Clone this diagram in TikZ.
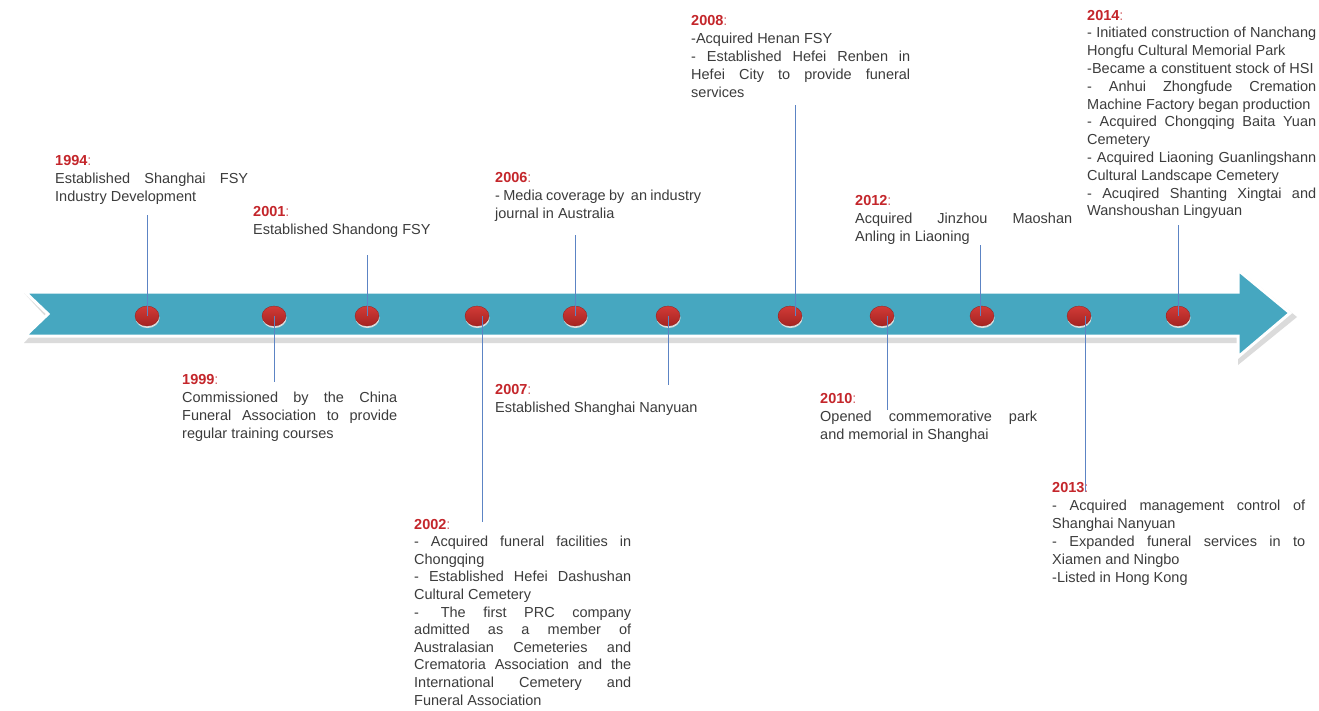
\documentclass[tikz,border=0pt]{standalone}
\usepackage{fontspec}
\setmainfont{Liberation Sans}
\usetikzlibrary{shapes.geometric}
\definecolor{band}{HTML}{46A7C0}
\definecolor{yrred}{HTML}{C4262B}
\definecolor{txtgray}{HTML}{3C3C3C}
\definecolor{conncol}{HTML}{5C84C4}
\definecolor{dottop}{HTML}{D23B37}
\definecolor{dotbot}{HTML}{A52321}
\newcommand{\yr}[1]{{\color{yrred}\bfseries #1}{\color{yrred!70}:}}
\newcommand{\jl}[2]{\makebox[#1pt][s]{#2}}
\begin{document}
\begin{tikzpicture}[x=1pt,y=-1pt,
  dotnode/.style={ellipse,minimum width=24pt,minimum height=20pt,inner sep=0pt,
    top color=dottop,bottom color=dotbot,draw=dotbot!85!black,line width=0.3pt},
  dotshadow/.style={ellipse,minimum width=24pt,minimum height=20pt,inner sep=0pt,fill=black!14},
  conn/.style={draw=conncol,line width=0.9pt},
  txt/.style={anchor=base west,inner sep=0pt,text=txtgray,font=\fontsize{14.5}{18}\selectfont}]
\useasboundingbox (0,0) rectangle (1319,710);
\fill[white] (0,0) rectangle (1319,710);
% arrow band
\fill[black!14,shift={(2,4)}] (22,289) -- (1236,289) -- (1236,265) -- (1295,313) -- (1236,361) -- (1236,339) -- (22,339) -- (45,314) -- cycle;
\filldraw[fill=band,draw=white,line width=3pt] (25,292) -- (1238,292) -- (1238,270) -- (1290,313) -- (1238,357) -- (1238,336) -- (25,336) -- (48,314) -- cycle;
% dots
\foreach \n/\x in {1/147,2/274,3/367,4/477,5/575,6/668,7/790,8/882,9/982,10/1079,11/1178}{
  \node[dotshadow] at (\x+0.5,318) {};
  \node[dotnode] (d\n) at (\x,316) {};
}
% connectors
\coordinate (t1) at (147,215);
\coordinate (t3) at (367,255);
\coordinate (b2) at (274,382);
\coordinate (b4) at (482,522);
\coordinate (t5) at (575,235);
\coordinate (b6) at (668,385);
\coordinate (t7) at (795,105);
\coordinate (b8) at (887,410);
\coordinate (t9) at (980,245);
\coordinate (b10) at (1085,492);
\coordinate (t11) at (1178,225);
\draw[conn] (t1) -- (d1.center);
\draw[conn] (t3) -- (d3.center);
\draw[conn] (d2.center) -- (b2);
\draw[conn] (b4 |- d4.center) -- (b4);
\draw[conn] (t5) -- (d5.center);
\draw[conn] (d6.center) -- (b6);
\draw[conn] (t7) -- (t7 |- d7.center);
\draw[conn] (b8 |- d8.center) -- (b8);
\draw[conn] (t9) -- (t9 |- d9.center);
\draw[conn] (b10 |- d10.center) -- (b10);
\draw[conn] (t11) -- (d11.center);
% texts
\node[txt] (y1994) at (55,155) {\parbox[t]{193pt}{\yr{1994}\\
  \jl{193}{Established Shanghai FSY}\\
  Industry Development}};
\node[txt] (y2001) at (253,206) {\parbox[t]{200pt}{\yr{2001}\\
  Established Shandong FSY}};
\node[txt] (y1999) at (182,374) {\parbox[t]{215pt}{\yr{1999}\\
  \jl{215}{Commissioned by the China}\\
  \jl{215}{Funeral Association to provide}\\
  regular training courses}};
\node[txt,font=\fontsize{14.5}{17.6}\selectfont] (y2002) at (414,519) {\parbox[t]{217pt}{\yr{2002}\\
  \jl{217}{- Acquired funeral facilities in}\\
  Chongqing\\
  \jl{217}{- Established Hefei Dashushan}\\
  Cultural Cemetery\\
  \jl{217}{-\hspace{1.5em}The first PRC company}\\
  \jl{217}{admitted as a member of}\\
  \jl{217}{Australasian Cemeteries and}\\
  \jl{217}{Crematoria Association and the}\\
  \jl{217}{International Cemetery and}\\
  Funeral Association}};
\node[txt] (y2006) at (495,172) {\parbox[t]{206pt}{\yr{2006}\\
  \jl{206}{- Media coverage by\ \ an industry}\\
  journal in Australia}};
\node[txt] (y2007) at (495,384) {\parbox[t]{210pt}{\yr{2007}\\
  Established Shanghai Nanyuan}};
\node[txt] (y2008) at (691,15) {\parbox[t]{219pt}{\yr{2008}\\
  -Acquired Henan FSY\\
  \jl{219}{- Established Hefei Renben in}\\
  \jl{219}{Hefei City to provide funeral}\\
  services}};
\node[txt] (y2010) at (820,393) {\parbox[t]{217pt}{\yr{2010}\\
  \jl{217}{Opened commemorative park}\\
  and memorial in Shanghai}};
\node[txt] (y2012) at (855,195) {\parbox[t]{217pt}{\yr{2012}\\
  \jl{217}{Acquired Jinzhou Maoshan}\\
  Anling in Liaoning}};
\node[txt] (y2013) at (1052,482) {\parbox[t]{253pt}{\yr{2013}\\
  \jl{253}{- Acquired management control of}\\
  Shanghai Nanyuan\\
  \jl{253}{- Expanded funeral services in to}\\
  Xiamen and Ningbo\\
  -Listed in Hong Kong}};
\node[txt,font=\fontsize{14.5}{17.8}\selectfont] (y2014) at (1087,10) {\parbox[t]{229pt}{\yr{2014}\\
  \jl{229}{- Initiated construction of Nanchang}\\
  Hongfu Cultural Memorial Park\\
  -Became a constituent stock of HSI\\
  \jl{229}{- Anhui Zhongfude Cremation}\\
  Machine Factory began production\\
  \jl{229}{- Acquired Chongqing Baita Yuan}\\
  Cemetery\\
  \jl{229}{- Acquired Liaoning Guanlingshann}\\
  Cultural Landscape Cemetery\\
  \jl{229}{- Acuqired Shanting Xingtai and}\\
  Wanshoushan Lingyuan}};
\end{tikzpicture}
\end{document}
